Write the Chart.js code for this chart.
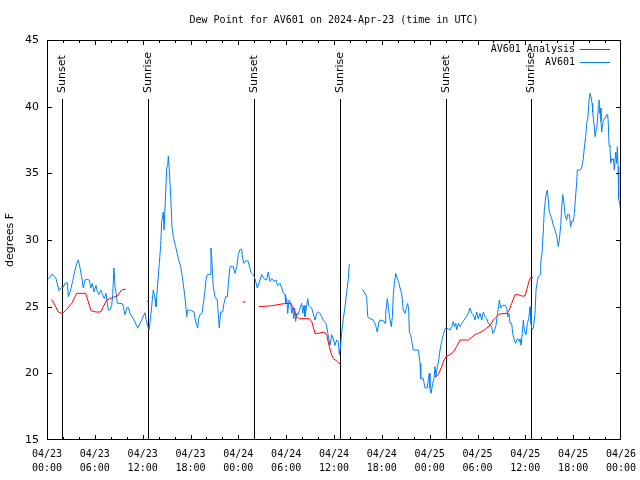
<!DOCTYPE html>
<html>
<head>
<meta charset="utf-8">
<script src="https://cdn.jsdelivr.net/npm/chart.js@4"></script>
<style>
  html, body { margin: 0; padding: 0; background: #fff; }
  canvas { display: block; }
</style>
</head>
<body>
<canvas id="dew-chart" width="640" height="480"></canvas>
<script>
// hours since 04/23 00:00 UTC and dew point (F); null = no data
const obsHours = [
  0.16, 0.66, 1.13, 1.51, 1.72, 2.04, 2.26, 2.55, 2.67, 2.89, 3.22, 3.42, 3.73, 3.93, 4.14, 4.35, 4.55, 4.77, 4.98, 5.31,
  5.48, 5.68, 5.90, 6.15, 6.31, 6.52, 6.74, 6.99, 7.19, 7.40, 7.69, 7.90, 8.12, 8.24, 8.40, 8.53, 8.66, 8.82, 9.16, 9.50,
  9.78, 10.00, 10.20, 10.41, 10.83, 11.38, 11.88, 12.29, 12.42, 12.71, 12.83, 13.13, 13.33, 13.55, 13.67, 13.84, 14.09, 14.26, 14.39, 14.59,
  14.68, 14.84, 15.02, 15.14, 15.22, 15.34, 15.52, 15.68, 15.84, 16.14, 16.47, 16.77, 16.97, 17.19, 17.35, 17.52, 17.65, 17.77, 18.15, 18.44,
  18.60, 18.78, 18.90, 19.03, 19.19, 19.44, 19.61, 19.78, 19.95, 20.11, 20.45, 20.57, 20.70, 20.86, 21.07, 21.36, 21.54, 21.61, 21.79, 22.04,
  22.20, 22.42, 22.62, 22.79, 22.96, 23.37, 23.58, 23.80, 24.00, 24.21, 24.42, 24.55, 24.71, 24.93, 25.25, 25.55, 25.88, 26.09, 26.38, 26.72,
  26.93, 27.22, 27.56, 27.76, 27.97, 28.19, 28.47, 28.73, 28.89, 29.23, 29.44, 29.64, 29.86, 29.94, 30.07, 30.19, 30.36, 30.57, 30.70, 30.82,
  30.95, 31.07, 31.20, 31.32, 31.52, 31.74, 31.95, 32.08, 32.24, 32.36, 32.58, 32.70, 32.83, 32.99, 33.20, 33.49, 33.62, 33.83, 34.03, 34.24,
  34.46, 34.66, 35.00, 35.16, 35.34, 35.50, 35.71, 35.91, 36.13, 36.34, 36.54, 36.67, 36.84, 36.97, 37.17, 37.38, 37.59, 37.80, 37.92, 38.7,
  39.55, 39.89, 40.10, 40.23, 40.52, 40.93, 41.23, 41.43, 41.65, 41.77, 42.19, 42.40, 42.49, 42.69, 42.86, 43.03, 43.19, 43.32, 43.44, 43.57,
  43.74, 43.94, 44.16, 44.28, 44.49, 44.69, 44.91, 45.12, 45.25, 45.37, 45.45, 45.62, 45.75, 45.95, 46.58, 46.79, 46.88, 47.20, 47.42, 47.70,
  47.83, 47.96, 48.04, 48.17, 48.38, 48.55, 48.67, 48.80, 48.96, 49.14, 49.30, 49.51, 49.71, 49.96, 50.14, 50.55, 50.77, 50.97, 51.09, 51.27,
  51.39, 51.59, 51.81, 52.02, 52.43, 52.85, 53.06, 53.27, 53.47, 53.69, 53.90, 54.10, 54.31, 54.53, 54.73, 54.94, 55.16, 55.36, 55.57, 55.78,
  55.91, 56.07, 56.32, 56.49, 56.66, 56.74, 56.91, 57.16, 57.45, 57.67, 57.79, 57.95, 58.08, 58.29, 58.41, 58.62, 58.79, 59.00, 59.21, 59.33,
  59.46, 59.62, 59.75, 59.87, 60.09, 60.25, 60.43, 60.59, 60.71, 60.84, 61.00, 61.22, 61.34, 61.50, 61.63, 61.84, 61.93, 62.09, 62.26, 62.38,
  62.60, 62.76, 62.89, 63.01, 63.31, 63.51, 63.72, 63.94, 64.14, 64.26, 64.44, 64.56, 64.69, 64.85, 64.98, 65.19, 65.31, 65.52, 65.69, 65.82,
  66.02, 66.15, 66.27, 66.45, 66.52, 66.86, 67.07, 67.27, 67.40, 67.57, 67.70, 67.83, 67.99, 68.12, 68.24, 68.37, 68.45, 68.53, 68.66, 68.74,
  68.87, 68.96, 69.08, 69.16, 69.24, 69.33, 69.41, 69.49, 69.58, 69.66, 69.78, 69.99, 70.21, 70.33, 70.41, 70.50, 70.62, 70.71, 70.84, 70.96,
  71.04, 71.16, 71.34, 71.46, 71.54, 71.63, 71.71, 71.88, 71.96
];
const obsDew = [
  27.05, 27.45, 27.1, 26.2, 26.4, 26.45, 26.75, 26.8, 25.75, 26.1, 26.9, 27.5, 28.25, 28.5, 27.9, 27.25, 26.4, 27.0, 27.05, 27.0,
  26.4, 26.75, 26.1, 26.6, 26.1, 25.9, 26.25, 25.9, 25.6, 26.0, 24.75, 24.75, 25.1, 25.9, 27.9, 26.5, 26.1, 25.25, 25.25, 25.2,
  24.4, 24.9, 24.95, 24.5, 24.1, 23.4, 24.0, 24.55, 24.05, 23.4, 23.3, 25.0, 26.25, 25.6, 25.0, 26.4, 28.25, 29.6, 31.4, 32.1,
  30.75, 32.9, 35.4, 35.6, 36.3, 35.25, 33.25, 31.0, 30.25, 29.5, 28.6, 28.0, 27.25, 26.25, 25.5, 24.25, 24.75, 24.75, 24.7, 24.6,
  24.0, 23.6, 23.4, 24.1, 24.4, 24.5, 25.25, 26.0, 27.0, 27.4, 27.4, 29.4, 28.25, 26.5, 25.75, 25.5, 24.0, 23.4, 24.6, 24.6,
  25.25, 25.75, 25.75, 27.0, 28.0, 28.0, 27.5, 28.0, 28.9, 29.3, 29.3, 28.6, 28.25, 28.45, 28.4, 27.6, 27.4, 27.1, 26.4, 27.0,
  27.4, 27.1, 27.0, 27.6, 26.9, 27.1, 26.9, 27.0, 26.6, 26.75, 26.4, 26.0, 25.9, 25.25, 25.6, 24.5, 25.5, 25.25, 24.5, 24.9,
  24.1, 24.9, 23.9, 24.5, 24.4, 24.9, 25.25, 24.5, 25.1, 24.25, 25.1, 25.6, 25.1, 25.0, 24.9, 24.25, 24.0, 24.5, 24.6, 24.5,
  24.25, 24.0, 23.75, 23.25, 22.6, 22.1, 22.9, 22.6, 22.1, 22.5, 22.4, 21.4, 22.1, 23.1, 24.1, 25.0, 26.1, 27.1, 28.2, null,
  26.3, 26.0, 25.75, 24.25, 24.1, 24.0, 23.6, 23.1, 23.9, 24.0, 23.95, 23.75, 24.6, 25.6, 24.75, 24.0, 23.5, 24.25, 25.9, 26.75,
  27.5, 27.1, 26.75, 26.4, 26.0, 24.75, 24.5, 25.0, 25.25, 24.75, 23.1, 22.9, 22.4, 21.75, 21.75, 20.75, 19.6, 19.6, 18.9, 18.9,
  19.6, 20.0, 18.9, 18.5, 19.25, 19.6, 20.5, 19.75, 20.5, 21.0, 21.75, 22.4, 22.9, 23.4, 23.4, 23.25, 23.5, 23.9, 23.5, 23.75,
  23.25, 23.75, 23.5, 23.75, 24.1, 24.5, 24.9, 24.5, 24.4, 24.0, 24.6, 24.1, 24.5, 24.0, 24.6, 24.25, 24.1, 23.75, 23.6, 23.5,
  23.0, 23.1, 23.6, 24.4, 25.1, 25.5, 24.9, 25.1, 25.1, 24.9, 24.25, 24.5, 23.75, 23.75, 23.0, 22.5, 22.25, 22.6, 22.4, 22.6,
  22.1, 23.0, 24.0, 23.25, 22.9, 23.75, 24.1, 25.0, 23.75, 23.25, 23.4, 24.5, 26.25, 26.9, 27.25, 27.4, 28.25, 29.0, 30.75, 32.25,
  33.4, 33.75, 33.0, 32.1, 31.6, 31.1, 30.75, 30.25, 29.5, 30.0, 31.1, 32.4, 33.4, 32.75, 31.9, 31.5, 31.9, 31.9, 31.0, 31.4,
  31.4, 32.0, 33.0, 34.4, 35.25, 35.25, 35.4, 36.1, 36.9, 37.75, 38.75, 39.1, 40.5, 41.0, 40.75, 40.25, 39.6, 39.1, 38.5, 37.75,
  38.25, 38.4, 39.25, 40.1, 40.5, 39.5, 39.9, 38.9, 38.1, 38.5, 39.0, 39.1, 39.4, 39.4, 38.75, 37.1, 37.0, 35.75, 36.1, 36.0,
  36.1, 35.25, 36.6, 35.75, 37.0, 35.5, 33.1, 32.6, 32.1
];

const anaHours = [
  0.59, 1.00, 1.42, 1.84, 2.04, 2.47, 3.10, 3.73, 4.85, 5.52, 6.15, 6.74, 7.49, 7.90, 8.32, 8.82, 9.37, 9.57, 9.87, 11.0,
  12.51, 12.83, 18.0,
  24.55, 24.93, 25.7,
  26.59, 28.19, 29.44, 30.27, 30.57, 30.90, 31.32, 31.65, 32.90, 33.20, 33.62, 34.03, 34.75, 35.09, 35.37, 35.63, 35.91, 36.41, 36.75, 42.0,
  48.67, 49.09, 49.51, 49.80, 50.05, 50.55, 50.97, 51.39, 51.81, 52.85, 53.27, 53.69, 54.10, 54.73, 55.16, 55.57, 55.99, 56.41, 56.74, 57.67,
  57.99, 58.29, 58.71, 59.12, 59.54, 59.96, 60.17, 60.46, 60.67, 61.00
];
const anaDew = [
  25.55, 25.1, 24.6, 24.5, 24.55, 24.8, 25.25, 26.0, 26.0, 24.7, 24.6, 24.6, 25.5, 25.6, 25.7, 25.8, 26.25, 26.3, 26.3, null,
  25.4, 25.4, null,
  25.35, 25.35, null,
  25.0, 25.07, 25.2, 25.25, 25.25, 24.9, 24.25, 24.1, 24.1, 23.9, 23.0, 23.0, 23.1, 22.9, 22.1, 21.5, 21.1, 20.9, 20.7, null,
  19.7, 19.9, 20.5, 21.0, 21.25, 21.4, 21.6, 22.0, 22.5, 22.5, 22.7, 22.9, 23.0, 23.2, 23.4, 23.6, 24.0, 24.25, 24.45, 24.5,
  24.75, 25.25, 25.9, 25.9, 25.8, 25.8, 26.25, 26.9, 27.2, 27.2
];

const sunHours = [1.93, 12.72, 26.0, 36.8, 50.09, 60.75];
const sunLabels = ["Sunset", "Sunrise", "Sunset", "Sunrise", "Sunset", "Sunrise"];
const dayLabels = ["04/23", "04/24", "04/25", "04/26"];

const MONO = '10px "DejaVu Sans Mono", "Liberation Mono", monospace';
const SANS = '11px "DejaVu Sans", sans-serif';

const toPoints = (xs, ys) => xs.map((x, i) => ({ x, y: ys[i] }));

// frame, inward ticks, sun lines, legend, title
const gnuplotLook = {
  id: "gnuplotLook",
  beforeDatasetsDraw(chart) {
    const { ctx, chartArea: a, scales: { x } } = chart;
    ctx.save();
    ctx.strokeStyle = "#000";
    ctx.lineWidth = 1;
    ctx.fillStyle = "#000";
    ctx.font = SANS;
    sunHours.forEach((h, i) => {
      const px = Math.round(x.getPixelForValue(h)) + 0.5;
      ctx.beginPath();
      ctx.moveTo(px, 99);
      ctx.lineTo(px, a.bottom);
      ctx.stroke();
      ctx.save();
      ctx.translate(px, 93);
      ctx.rotate(-Math.PI / 2);
      ctx.textAlign = "left";
      ctx.textBaseline = "middle";
      ctx.fillText(sunLabels[i], 0, 0);
      ctx.restore();
    });
    ctx.restore();
  },
  afterDraw(chart) {
    const { ctx, chartArea: a, scales: { x, y } } = chart;
    ctx.save();
    ctx.strokeStyle = "#000";
    ctx.lineWidth = 1;
    ctx.strokeRect(a.left + 0.5, a.top + 0.5, a.right - a.left - 1, a.bottom - a.top - 1);

    ctx.beginPath();
    for (let h = 2; h < 72; h += 2) {
      const px = Math.round(x.getPixelForValue(h)) + 0.5;
      const len = h % 6 === 0 ? 5 : 3;
      ctx.moveTo(px, a.bottom); ctx.lineTo(px, a.bottom - len);
      ctx.moveTo(px, a.top); ctx.lineTo(px, a.top + len);
    }
    for (let v = 20; v < 45; v += 5) {
      const py = Math.round(y.getPixelForValue(v)) + 0.5;
      ctx.moveTo(a.left, py); ctx.lineTo(a.left + 5, py);
      ctx.moveTo(a.right, py); ctx.lineTo(a.right - 5, py);
    }
    ctx.stroke();

    // title
    ctx.fillStyle = "#000";
    ctx.font = MONO;
    ctx.textAlign = "center";
    ctx.textBaseline = "middle";
    ctx.fillText("Dew Point for AV601 on 2024-Apr-23 (time in UTC)", (a.left + a.right) / 2, 20);

    // y axis title
    ctx.save();
    ctx.font = SANS;
    ctx.translate(10, (a.top + a.bottom) / 2);
    ctx.rotate(-Math.PI / 2);
    ctx.fillText("degrees F", 0, 0);
    ctx.restore();

    // legend
    ctx.font = MONO;
    ctx.textAlign = "right";
    chart.data.datasets.forEach((ds, i) => {
      const ly = 49 + i * 13;
      ctx.fillStyle = "#000";
      ctx.fillText(ds.label, 575, ly);
      ctx.strokeStyle = ds.borderColor;
      ctx.beginPath();
      ctx.moveTo(580, ly + 0.5);
      ctx.lineTo(610, ly + 0.5);
      ctx.stroke();
    });
    ctx.restore();
  }
};

new Chart(document.getElementById("dew-chart"), {
  type: "line",
  data: {
    datasets: [
      {
        label: "AV601 Analysis",
        data: toPoints(anaHours, anaDew),
        borderColor: "#ff0000",
        borderWidth: 1,
        pointRadius: 0,
        spanGaps: false,
        tension: 0
      },
      {
        label: "AV601",
        data: toPoints(obsHours, obsDew),
        borderColor: "#0080ff",
        borderWidth: 1,
        pointRadius: 0,
        spanGaps: false,
        tension: 0
      }
    ]
  },
  options: {
    responsive: false,
    animation: false,
    devicePixelRatio: 1,
    layout: { padding: { top: 40, right: 19, left: 0, bottom: 0 } },
    plugins: {
      legend: { display: false },
      tooltip: { enabled: false },
      title: { display: false }
    },
    scales: {
      x: {
        type: "linear",
        min: 0,
        max: 72,
        afterFit(s) { s.height = 40; s.paddingLeft = 0; s.paddingRight = 0; },
        grid: { display: false, drawTicks: false },
        border: { display: false },
        ticks: {
          stepSize: 6,
          autoSkip: false,
          maxRotation: 0,
          padding: 7,
          color: "#000",
          font: { family: '"DejaVu Sans Mono", monospace', size: 10, lineHeight: 1.4 },
          callback(v) {
            const hh = String(v % 24).padStart(2, "0");
            return [dayLabels[Math.floor(v / 24)], hh + ":00"];
          }
        }
      },
      y: {
        min: 15,
        max: 45,
        afterFit(s) { s.width = 47; s.paddingTop = 0; s.paddingBottom = 0; },
        grid: { display: false, drawTicks: false },
        border: { display: false },
        ticks: {
          stepSize: 5,
          padding: 8,
          color: "#000",
          font: { family: '"DejaVu Sans", sans-serif', size: 11 }
        }
      }
    }
  },
  plugins: [gnuplotLook]
});
</script>
</body>
</html>
